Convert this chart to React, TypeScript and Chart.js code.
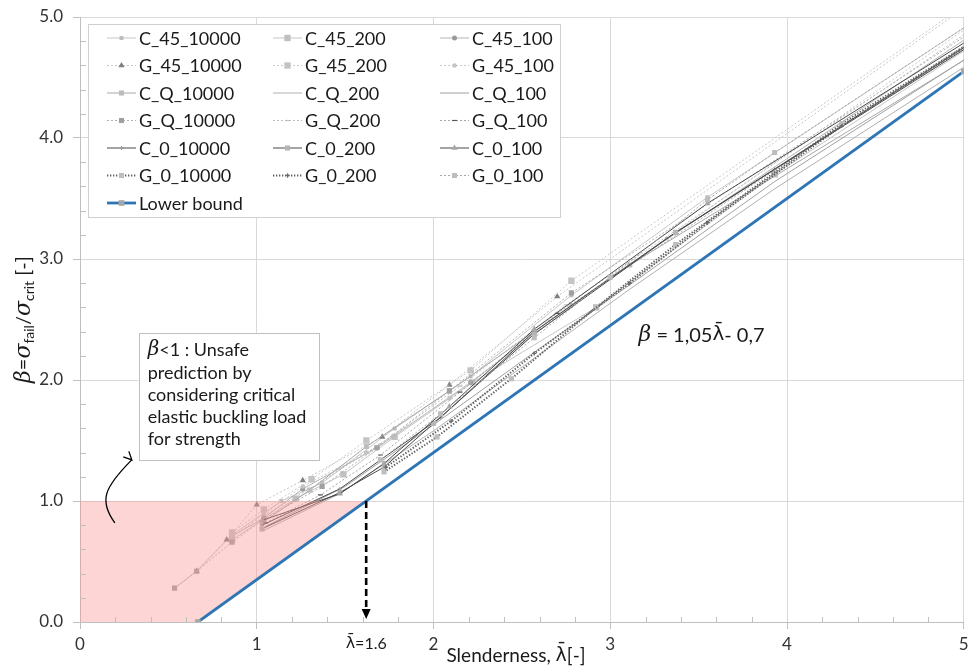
import React, { useEffect, useRef } from "react";
import { Chart, registerables } from "chart.js";

Chart.register(...registerables);

type Pt = [number, number];

// ---------------- data (slenderness, beta) ----------------
const C_45_10000: Pt[] = [[0.535, 0.28], [0.66, 0.42], [0.86, 0.72], [1.14, 1.0], [1.37, 1.15], [1.78, 1.6], [2.21, 2.03], [2.78, 2.7], [3.55, 3.51], [5.3, 5.2]];
const C_45_200: Pt[] = [[0.86, 0.68], [1.22, 1.02], [1.49, 1.22], [1.78, 1.53], [2.22, 1.98], [2.92, 2.6], [3.93, 3.7], [5.4, 5.1]];
const C_45_100: Pt[] = [[0.86, 0.71], [1.04, 0.86], [1.26, 1.1], [1.68, 1.44], [2.21, 1.98], [3.0, 2.85], [5.4, 5.2]];
const G_45_10000: Pt[] = [[0.66, 0.42], [0.83, 0.68], [1.0, 0.97], [1.26, 1.17], [1.71, 1.53], [2.09, 1.96], [2.7, 2.69], [5.2, 5.28]];
const G_45_200: Pt[] = [[0.86, 0.74], [1.04, 0.93], [1.31, 1.18], [1.62, 1.5], [2.21, 2.08], [2.78, 2.82], [5.2, 5.3]];
const G_45_100: Pt[] = [[0.86, 0.7], [1.04, 0.89], [1.26, 1.12], [1.62, 1.4], [2.09, 1.85], [2.78, 2.62], [5.3, 5.2]];
const C_Q_10000: Pt[] = [[1.03, 0.82], [1.3, 1.09], [1.62, 1.45], [2.09, 1.91], [2.57, 2.4], [3.11, 2.95], [5.4, 5.0]];
const C_Q_200: Pt[] = [[1.03, 0.75], [1.47, 1.06], [2.0, 1.58], [2.57, 2.18], [3.1, 2.74], [3.93, 3.58], [5.4, 4.96]];
const C_Q_100: Pt[] = [[1.05, 0.79], [1.5, 1.12], [2.0, 1.63], [2.6, 2.26], [3.2, 2.88], [3.93, 3.64], [5.4, 5.02]];
const G_Q_10000: Pt[] = [[0.535, 0.28], [0.66, 0.42], [0.86, 0.66], [1.04, 0.85], [1.37, 1.12], [1.68, 1.44], [2.09, 1.91], [2.78, 2.72], [5.3, 5.12]];
const G_Q_200: Pt[] = [[1.04, 0.88], [1.3, 1.1], [1.7, 1.47], [2.15, 1.95], [2.75, 2.62], [5.3, 5.15]];
const G_Q_100: Pt[] = [[1.05, 0.82], [1.36, 1.05], [1.7, 1.38], [2.15, 1.9], [2.7, 2.55], [5.3, 5.05]];
const C_0_10000: Pt[] = [[1.03, 0.8], [1.47, 1.1], [1.7, 1.34], [2.04, 1.69], [2.57, 2.4], [3.32, 3.17], [3.93, 3.74], [5.4, 5.1]];
const C_0_200: Pt[] = [[1.03, 0.77], [1.47, 1.07], [1.72, 1.28], [2.0, 1.64], [2.57, 2.38], [3.37, 3.22], [5.4, 5.12]];
const C_0_100: Pt[] = [[1.03, 0.84], [1.47, 1.06], [1.72, 1.31], [2.09, 1.78], [2.57, 2.42], [3.55, 3.46], [5.4, 5.15]];
const G_0_10000: Pt[] = [[1.72, 1.24], [2.02, 1.53], [2.44, 2.01], [2.92, 2.6], [3.37, 3.12], [4.31, 4.12], [5.4, 5.12]];
const G_0_200: Pt[] = [[1.73, 1.28], [2.1, 1.66], [2.57, 2.22], [3.11, 2.8], [3.55, 3.3], [4.31, 4.1], [5.4, 5.12]];
const G_0_100: Pt[] = [[1.7, 1.34], [2.04, 1.72], [2.57, 2.35], [3.0, 2.85], [3.55, 3.49], [3.93, 3.88], [5.3, 5.2]];

const LOWER_BOUND: Pt[] = [[0.667, 0], [5, 4.55]];
const UNSAFE_REGION: Pt[] = [[0, 0], [0.667, 0], [1.619, 1]];
const UNSAFE_LEVEL = 1;
const LAMBDA_LIMIT = 1.619;

const X_TICK_LABELS = ["0", "1", "2", "3", "4", "5"];
const Y_TICK_LABELS = ["0.0", "1.0", "2.0", "3.0", "4.0", "5.0"];

const SERIES: [string, Pt[]][] = [
  ["C_45_10000", C_45_10000], ["C_45_200", C_45_200], ["C_45_100", C_45_100],
  ["G_45_10000", G_45_10000], ["G_45_200", G_45_200], ["G_45_100", G_45_100],
  ["C_Q_10000", C_Q_10000], ["C_Q_200", C_Q_200], ["C_Q_100", C_Q_100],
  ["G_Q_10000", G_Q_10000], ["G_Q_200", G_Q_200], ["G_Q_100", G_Q_100],
  ["C_0_10000", C_0_10000], ["C_0_200", C_0_200], ["C_0_100", C_0_100],
  ["G_0_10000", G_0_10000], ["G_0_200", G_0_200], ["G_0_100", G_0_100],
];

// ---------------- styles ----------------
interface Style { color: string; width: number; dash: number[]; point: string | false; r: number; pc: string }
const STYLES: Record<string, Style> = {
  C_45_10000: { color: "#c6c6c6", width: 1, dash: [], point: "rect", r: 2.8, pc: "#bdbdbd" },
  C_45_200: { color: "#c6c6c6", width: 1, dash: [], point: "rect", r: 4.5, pc: "#c0c0c0" },
  C_45_100: { color: "#b4b4b4", width: 1, dash: [], point: "circle", r: 2.5, pc: "#9a9a9a" },
  G_45_10000: { color: "#c6c6c6", width: 1, dash: [2, 2], point: "triangle", r: 3.6, pc: "#7f7f7f" },
  G_45_200: { color: "#c8c8c8", width: 1, dash: [2, 2], point: "rect", r: 4.5, pc: "#c4c4c4" },
  G_45_100: { color: "#c8c8c8", width: 1, dash: [2, 2], point: "circle", r: 2.3, pc: "#c4c4c4" },
  C_Q_10000: { color: "#a8a8a8", width: 1, dash: [], point: "rect", r: 3.6, pc: "#bdbdbd" },
  C_Q_200: { color: "#b0b0b0", width: 1, dash: [], point: false, r: 0, pc: "#b0b0b0" },
  C_Q_100: { color: "#a0a0a0", width: 1, dash: [], point: false, r: 0, pc: "#a0a0a0" },
  G_Q_10000: { color: "#b0b0b0", width: 1, dash: [2, 2], point: "rect", r: 3.6, pc: "#a0a0a0" },
  G_Q_200: { color: "#bdbdbd", width: 1, dash: [2, 2], point: "line", r: 2.5, pc: "#bdbdbd" },
  G_Q_100: { color: "#a6a6a6", width: 1, dash: [2, 2], point: "line", r: 2.5, pc: "#595959" },
  C_0_10000: { color: "#4a4a4a", width: 1, dash: [], point: "cross", r: 2, pc: "#9a9a9a" },
  C_0_200: { color: "#4a4a4a", width: 1, dash: [], point: "rect", r: 3.6, pc: "#b5b5b5" },
  C_0_100: { color: "#4a4a4a", width: 1, dash: [], point: "triangle", r: 3.6, pc: "#a6a6a6" },
  G_0_10000: { color: "#5e5e5e", width: 2, dash: [1.3, 1.7], point: "rect", r: 3.6, pc: "#bdbdbd" },
  G_0_200: { color: "#5e5e5e", width: 2, dash: [1.3, 1.7], point: "cross", r: 2.2, pc: "#6a6a6a" },
  G_0_100: { color: "#a6a6a6", width: 1, dash: [2, 2], point: "rect", r: 3.6, pc: "#bdbdbd" },
  "Lower bound": { color: "#2e75b6", width: 2.8, dash: [], point: "rect", r: 4, pc: "#a6a6a6" },
};

const FONT = "Lato, 'Open Sans', sans-serif";
const SERIF_I = "italic 22px 'DejaVu Serif', serif";

function drawMarker(ctx: CanvasRenderingContext2D, s: Style, x: number, y: number) {
  if (!s.point) return;
  const r = s.r;
  ctx.save();
  ctx.setLineDash([]);
  ctx.fillStyle = s.pc;
  ctx.strokeStyle = s.pc;
  ctx.lineWidth = 1.2;
  ctx.beginPath();
  if (s.point === "rect") {
    const h = r * Math.SQRT1_2;
    ctx.rect(x - h, y - h, 2 * h, 2 * h);
    ctx.fill();
  } else if (s.point === "circle") {
    ctx.arc(x, y, r, 0, Math.PI * 2);
    ctx.fill();
  } else if (s.point === "triangle") {
    const c = Math.cos(Math.PI / 6) * r;
    ctx.moveTo(x, y - r);
    ctx.lineTo(x + c, y + r / 2);
    ctx.lineTo(x - c, y + r / 2);
    ctx.closePath();
    ctx.fill();
  } else if (s.point === "line") {
    ctx.moveTo(x - r, y);
    ctx.lineTo(x + r, y);
    ctx.stroke();
  } else if (s.point === "cross") {
    ctx.moveTo(x - r, y);
    ctx.lineTo(x + r, y);
    ctx.moveTo(x, y - r);
    ctx.lineTo(x, y + r);
    ctx.stroke();
  }
  ctx.restore();
}

type Seg = { t: string; font: string; dy?: number };
function segWidth(ctx: CanvasRenderingContext2D, segs: Seg[]) {
  let w = 0;
  for (const s of segs) { ctx.font = s.font; w += ctx.measureText(s.t).width; }
  return w;
}
function drawSegs(ctx: CanvasRenderingContext2D, segs: Seg[], x: number, y: number) {
  let cx = x;
  for (const s of segs) {
    ctx.font = s.font;
    ctx.fillText(s.t, cx, y + (s.dy || 0));
    cx += ctx.measureText(s.t).width;
  }
}

const extras = {
  id: "extras",
  afterDatasetsDraw(chart: any) {
    const ctx: CanvasRenderingContext2D = chart.ctx;
    const ca = chart.chartArea;
    const X = (v: number) => chart.scales.x.getPixelForValue(v);
    const Y = (v: number) => chart.scales.y.getPixelForValue(v);
    ctx.save();

    // minor tick marks (inside)
    ctx.strokeStyle = "#bfbfbf";
    ctx.lineWidth = 1;
    for (let i = 1; i < 25; i++) {
      if (i % 5 === 0) continue;
      const v = i / 5;
      const px = Math.round(X(v)) + 0.5;
      ctx.beginPath(); ctx.moveTo(px, ca.bottom); ctx.lineTo(px, ca.bottom - 5); ctx.stroke();
      const py = Math.round(Y(v)) + 0.5;
      ctx.beginPath(); ctx.moveTo(ca.left, py); ctx.lineTo(ca.left + 6, py); ctx.stroke();
    }

    // dashed arrow at lambda limit
    const ax = X(LAMBDA_LIMIT);
    ctx.strokeStyle = "#000";
    ctx.lineWidth = 2.6;
    ctx.setLineDash([7, 4]);
    ctx.beginPath(); ctx.moveTo(ax, Y(UNSAFE_LEVEL)); ctx.lineTo(ax, ca.bottom - 12); ctx.stroke();
    ctx.setLineDash([]);
    ctx.fillStyle = "#000";
    ctx.beginPath();
    ctx.moveTo(ax - 4.5, ca.bottom - 13);
    ctx.lineTo(ax + 4.5, ca.bottom - 13);
    ctx.lineTo(ax, ca.bottom - 3);
    ctx.closePath();
    ctx.fill();

    // curved arrow
    const s0 = [X(0.197), Y(0.82)], s1 = [X(0.293), Y(1.34)];
    ctx.strokeStyle = "#000";
    ctx.lineWidth = 1.3;
    ctx.beginPath();
    ctx.moveTo(s0[0], s0[1]);
    ctx.bezierCurveTo(s0[0] - 16, s0[1] - 22, s1[0] - 28, s1[1] + 28, s1[0], s1[1]);
    ctx.stroke();
    const ang = Math.atan2(-28, -28);
    ctx.beginPath();
    ctx.moveTo(s1[0] + 9 * Math.cos(ang + 0.45), s1[1] + 9 * Math.sin(ang + 0.45));
    ctx.lineTo(s1[0], s1[1]);
    ctx.lineTo(s1[0] + 9 * Math.cos(ang - 0.45), s1[1] + 9 * Math.sin(ang - 0.45));
    ctx.stroke();

    // annotation box
    const bx0 = X(0.332), bx1 = X(1.351), by0 = Y(2.39), by1 = Y(1.34);
    ctx.fillStyle = "#fff";
    ctx.fillRect(bx0, by0, bx1 - bx0, by1 - by0);
    ctx.strokeStyle = "#bfbfbf";
    ctx.lineWidth = 1;
    ctx.strokeRect(Math.round(bx0) + 0.5, Math.round(by0) + 0.5, Math.round(bx1 - bx0), Math.round(by1 - by0));
    ctx.fillStyle = "#1a1a1a";
    ctx.textBaseline = "middle";
    ctx.textAlign = "left";
    const tx = bx0 + 9;
    drawSegs(ctx, [{ t: "β", font: "italic 20px 'DejaVu Serif', serif" }, { t: "<1 : Unsafe", font: `18px ${FONT}` }], tx, by0 + 17);
    const lines = ["prediction by", "considering critical", "elastic buckling load", "for strength"];
    ctx.font = `18px ${FONT}`;
    lines.forEach((l, i) => ctx.fillText(l, tx, by0 + 40 + i * 22.2));

    // formula
    drawSegs(ctx, [
      { t: "β", font: SERIF_I },
      { t: " = 1,05", font: `20px ${FONT}` },
      { t: "λ\u0304", font: "20px 'DejaVu Sans', sans-serif" },
      { t: "- 0,7", font: `20px ${FONT}` },
    ], X(3.16), Y(2.37));

    // legend
    const lx = 88, ly = 24, lw = 472, lh = 193;
    ctx.fillStyle = "#fff";
    ctx.fillRect(lx, ly, lw, lh);
    ctx.strokeStyle = "#d0d0d0";
    ctx.strokeRect(lx + 0.5, ly + 0.5, lw, lh);
    const colX = [107, 273, 440];
    const labels = SERIES.map((s) => s[0]).concat(["Lower bound"]);
    labels.forEach((lab, i) => {
      const st = STYLES[lab];
      const cx = colX[i % 3];
      const cy = 38 + Math.floor(i / 3) * 27.5;
      ctx.save();
      ctx.strokeStyle = st.color;
      ctx.lineWidth = st.width;
      ctx.setLineDash(st.dash);
      ctx.beginPath(); ctx.moveTo(cx, cy); ctx.lineTo(cx + 29, cy); ctx.stroke();
      ctx.restore();
      drawMarker(ctx, st, cx + 14.5, cy);
      ctx.fillStyle = "#1a1a1a";
      ctx.font = `18px ${FONT}`;
      ctx.textBaseline = "middle";
      ctx.fillText(lab, cx + 32, cy + 1);
    });

    ctx.restore();
  },
  afterDraw(chart: any) {
    const ctx: CanvasRenderingContext2D = chart.ctx;
    const ca = chart.chartArea;
    const X = (v: number) => chart.scales.x.getPixelForValue(v);
    ctx.save();
    ctx.fillStyle = "#1a1a1a";
    ctx.textBaseline = "middle";
    // lambda limit label
    const lsegs: Seg[] = [
      { t: "λ\u0304", font: "16px 'DejaVu Sans', sans-serif" },
      { t: "=1.6", font: `16px ${FONT}` },
    ];
    drawSegs(ctx, lsegs, X(LAMBDA_LIMIT) - segWidth(ctx, lsegs) / 2, ca.bottom + 22);
    // x title
    const xsegs: Seg[] = [
      { t: "Slenderness, ", font: `19px ${FONT}` },
      { t: "λ\u0304", font: "19px 'DejaVu Sans', sans-serif" },
      { t: "[-]", font: `19px ${FONT}` },
    ];
    drawSegs(ctx, xsegs, 516 - segWidth(ctx, xsegs) / 2, ca.bottom + 34);
    // y title
    const ysegs: Seg[] = [
      { t: "β", font: SERIF_I },
      { t: "=", font: `20px ${FONT}` },
      { t: "σ", font: SERIF_I },
      { t: "fail", font: `14px ${FONT}`, dy: 5 },
      { t: "/", font: `20px ${FONT}` },
      { t: "σ", font: SERIF_I },
      { t: "crit", font: `14px ${FONT}`, dy: 5 },
      { t: " [-]", font: `20px ${FONT}` },
    ];
    ctx.translate(24, (ca.top + ca.bottom) / 2);
    ctx.rotate(-Math.PI / 2);
    drawSegs(ctx, ysegs, -segWidth(ctx, ysegs) / 2, 0);
    ctx.restore();
  },
};

function buildConfig(): any {
  const datasets: any[] = SERIES.map(([label, pts], i) => {
    const s = STYLES[label];
    return {
      label,
      data: pts.map(([x, y]) => ({ x, y })),
      borderColor: s.color,
      borderWidth: s.width,
      borderDash: s.dash,
      pointStyle: s.point || "circle",
      pointRadius: s.point ? s.r : 0,
      pointBackgroundColor: s.pc,
      pointBorderColor: s.pc,
      pointBorderWidth: s.point === "line" || s.point === "cross" ? 1.2 : 0,
      fill: false,
      tension: 0,
      order: -i,
    };
  });
  const lb = STYLES["Lower bound"];
  datasets.push({
    label: "Lower bound",
    data: LOWER_BOUND.map(([x, y]) => ({ x, y })),
    borderColor: lb.color,
    borderWidth: lb.width,
    pointStyle: "rect",
    pointRadius: lb.r,
    pointBackgroundColor: lb.pc,
    pointBorderWidth: 0,
    fill: false,
    order: -200,
  });
  datasets.push({
    label: "unsafe",
    data: UNSAFE_REGION.map(([x, y]) => ({ x, y })),
    borderWidth: 0,
    borderColor: "rgba(0,0,0,0)",
    pointRadius: 0,
    fill: { value: UNSAFE_LEVEL },
    backgroundColor: "rgba(250,150,150,0.4)",
    order: -100,
  });

  return {
    type: "line",
    data: { datasets },
    options: {
      animation: false,
      responsive: true,
      maintainAspectRatio: false,
      layout: { padding: { top: 17, right: 1, left: 0, bottom: 0 } },
      plugins: { legend: { display: false }, tooltip: { enabled: false } },
      scales: {
        x: {
          type: "linear",
          min: 0,
          max: 5,
          ticks: {
            stepSize: 1,
            padding: 5,
            color: "#333",
            font: { family: FONT, size: 17 },
            callback: (v: number) => (Number.isInteger(v) ? X_TICK_LABELS[v] : ""),
          },
          grid: { color: "#d9d9d9", tickColor: "#bfbfbf", tickLength: 7 },
          border: { color: "#bfbfbf" },
          afterFit: (s: any) => { s.height = 47; s.paddingLeft = 0; s.paddingRight = 0; },
        },
        y: {
          type: "linear",
          min: 0,
          max: 5,
          ticks: {
            stepSize: 1,
            padding: 10,
            color: "#333",
            font: { family: FONT, size: 17 },
            callback: (v: number) => (Number.isInteger(v) ? Y_TICK_LABELS[v] : ""),
          },
          grid: { color: "#d9d9d9", tickColor: "#bfbfbf", tickLength: 7 },
          border: { color: "#bfbfbf" },
          afterFit: (s: any) => { s.width = 80; s.paddingTop = 0; s.paddingBottom = 0; },
        },
      },
    },
    plugins: [extras],
  };
}

export default function App() {
  const ref = useRef<HTMLCanvasElement>(null);
  useEffect(() => {
    document.body.style.margin = "0";
    const chart = new Chart(ref.current as HTMLCanvasElement, buildConfig());
    return () => chart.destroy();
  }, []);
  return (
    <div style={{ width: 969, height: 669, position: "relative" }}>
      <canvas ref={ref} />
    </div>
  );
}
